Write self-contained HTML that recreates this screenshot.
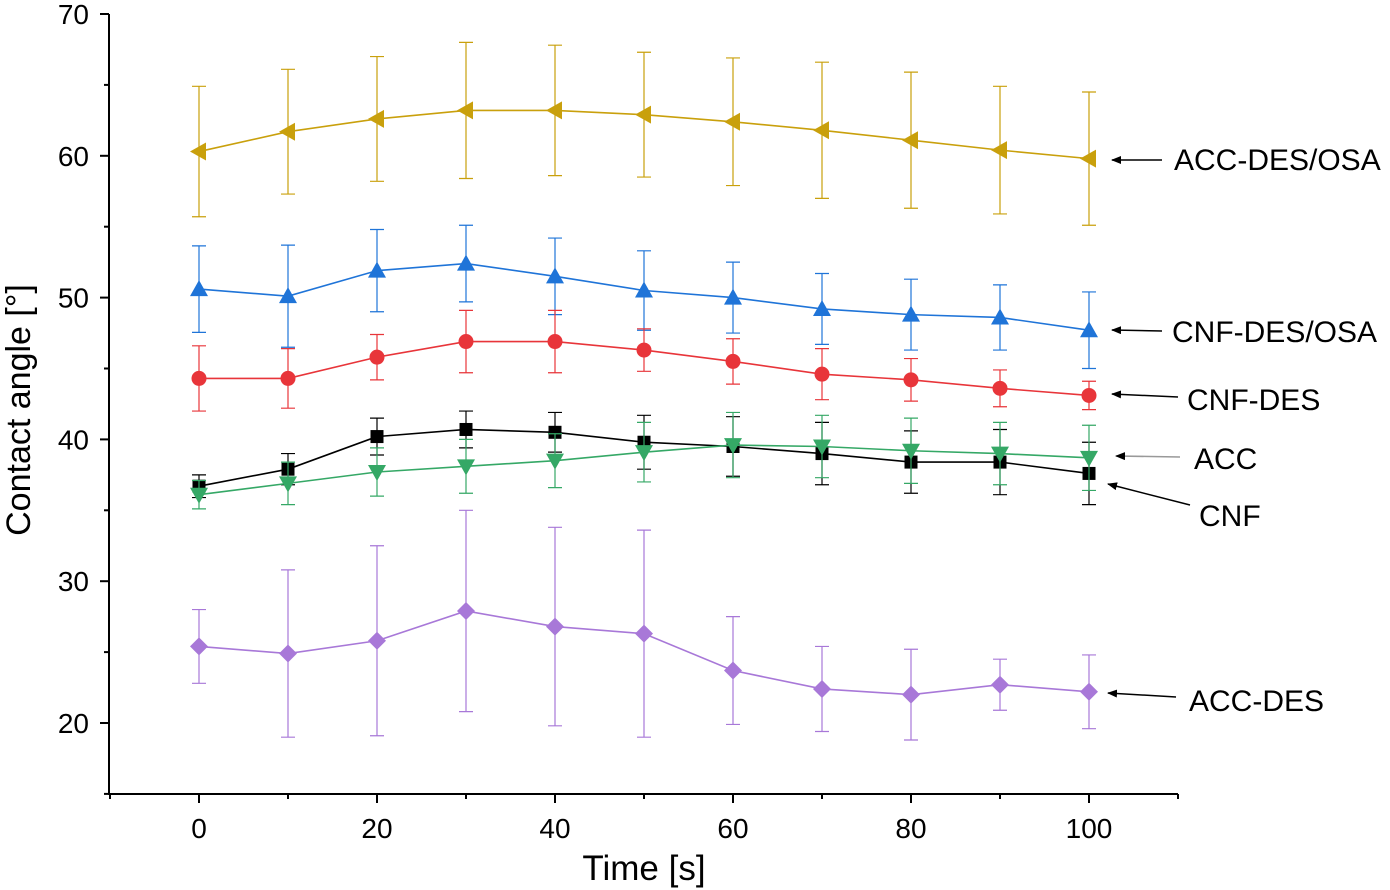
<!DOCTYPE html>
<html><head><meta charset="utf-8"><style>
html,body{margin:0;padding:0;background:#fff;}
svg{display:block;font-family:"Liberation Sans",Arial,sans-serif;}
</style></head><body>
<svg id="chart" width="1390" height="890" viewBox="0 0 1390 890" xmlns="http://www.w3.org/2000/svg">
<defs>
<marker id="ah" markerWidth="10" markerHeight="8" refX="9" refY="4" orient="auto" markerUnits="userSpaceOnUse"><path d="M0,0 L10,4 L0,8 z" fill="#000"/></marker>
<marker id="ahg" markerWidth="10" markerHeight="8" refX="9" refY="4" orient="auto" markerUnits="userSpaceOnUse"><path d="M0,0 L10,4 L0,8 z" fill="#000"/></marker>
</defs>
<g id="axes"></g>
<g id="series"></g>
<g id="annotations">
<line x1="1162" y1="160" x2="1112" y2="160" stroke="#000" stroke-width="1.5" marker-end="url(#ah)"/>
<text x="1174" y="170" font-size="30">ACC-DES/OSA</text>
<line x1="1162" y1="331" x2="1112" y2="330" stroke="#000" stroke-width="1.5" marker-end="url(#ah)"/>
<text x="1172" y="342" font-size="30">CNF-DES/OSA</text>
<line x1="1178" y1="397" x2="1112" y2="394" stroke="#000" stroke-width="1.5" marker-end="url(#ah)"/>
<text x="1187" y="410" font-size="30">CNF-DES</text>
<line x1="1180" y1="457" x2="1116" y2="456" stroke="#999" stroke-width="1.5" marker-end="url(#ahg)"/>
<text x="1194" y="469" font-size="30">ACC</text>
<line x1="1190" y1="505" x2="1108" y2="484" stroke="#000" stroke-width="1.5" marker-end="url(#ah)"/>
<text x="1199" y="526" font-size="30">CNF</text>
<line x1="1176" y1="697" x2="1108" y2="693" stroke="#000" stroke-width="1.5" marker-end="url(#ah)"/>
<text x="1189" y="711" font-size="30">ACC-DES</text>
</g>
</svg>
<script>
const times=[0,10,20,30,40,50,60,70,80,90,100];
const accDesOsa=[60.3,61.7,62.6,63.2,63.2,62.9,62.4,61.8,61.1,60.4,59.8];
const accDesOsaErr=[4.6,4.4,4.4,4.8,4.6,4.4,4.5,4.8,4.8,4.5,4.7];
const cnfDesOsa=[50.6,50.1,51.9,52.4,51.5,50.5,50.0,49.2,48.8,48.6,47.7];
const cnfDesOsaErr=[3.05,3.6,2.9,2.7,2.7,2.8,2.5,2.5,2.5,2.3,2.7];
const cnfDes=[44.3,44.3,45.8,46.9,46.9,46.3,45.5,44.6,44.2,43.6,43.1];
const cnfDesErr=[2.3,2.1,1.6,2.2,2.2,1.5,1.6,1.8,1.5,1.3,1.0];
const cnf=[36.7,37.9,40.2,40.7,40.5,39.8,39.5,39.0,38.4,38.4,37.6];
const cnfErr=[0.8,1.1,1.3,1.3,1.4,1.9,2.1,2.2,2.2,2.3,2.2];
const acc=[36.1,36.9,37.7,38.1,38.5,39.1,39.6,39.5,39.2,39.0,38.7];
const accErr=[1.0,1.5,1.7,1.9,1.9,2.1,2.3,2.2,2.3,2.2,2.3];
const accDes=[25.4,24.9,25.8,27.9,26.8,26.3,23.7,22.4,22.0,22.7,22.2];
const accDesErr=[2.6,5.9,6.7,7.1,7.0,7.3,3.8,3.0,3.2,1.8,2.6];
const xTicks=[0,20,40,60,80,100];
const xMinor=[-10,10,30,50,70,90,110];
const yTicks=[20,30,40,50,60,70];
const yMinor=[15,25,35,45,55,65];

const NS="http://www.w3.org/2000/svg";
const X0=199, XS=8.9, Y0=723, YS=14.18;
function xs(v){return X0+v*XS;}
function ys(v){return Y0-(v-20)*YS;}
function mk(tag,attrs,parent){const e=document.createElementNS(NS,tag);for(const k in attrs)e.setAttribute(k,attrs[k]);parent.appendChild(e);return e;}
const ax=document.getElementById('axes');
const L=109,R=1178,B=794,T=14;
let e;
e=mk('line',{x1:L,y1:B,x2:R,y2:B,stroke:'#000','stroke-width':2},ax);


e=mk('line',{x1:L,y1:B+1,x2:L,y2:T,stroke:'#000','stroke-width':2},ax);


xTicks.forEach(v=>{
  mk('line',{x1:xs(v),y1:B,x2:xs(v),y2:B+9,stroke:'#000','stroke-width':2},ax);
  const t=mk('text',{x:xs(v),y:B+44,'font-size':28,'text-anchor':'middle'},ax);
  t.textContent=v;
  
  
});
xMinor.forEach(v=>{mk('line',{x1:xs(v),y1:B,x2:xs(v),y2:B+5,stroke:'#000','stroke-width':2},ax);});
yTicks.forEach(v=>{
  mk('line',{x1:L,y1:ys(v),x2:L-9,y2:ys(v),stroke:'#000','stroke-width':2},ax);
  const t=mk('text',{x:89,y:ys(v)+10,'font-size':28,'text-anchor':'end'},ax);
  t.textContent=v;
  
  
});
yMinor.forEach(v=>{mk('line',{x1:L,y1:ys(v),x2:L-5,y2:ys(v),stroke:'#000','stroke-width':2},ax);});
e=mk('text',{x:644,y:880,'font-size':35,'text-anchor':'middle'},ax);
e.textContent='Time [s]';


e=mk('text',{x:0,y:0,'font-size':34,'text-anchor':'middle',transform:'translate(30,410) rotate(-90)'},ax);
e.textContent='Contact angle [°]';



const sg=document.getElementById('series');
const series=[
 {name:'acc-des-osa',vals:accDesOsa,err:accDesOsaErr,color:'#c9a00c',shape:'left'},
 {name:'cnf-des-osa',vals:cnfDesOsa,err:cnfDesOsaErr,color:'#1f74d8',shape:'up'},
 {name:'cnf-des',vals:cnfDes,err:cnfDesErr,color:'#e8353a',shape:'circle'},
 {name:'cnf',vals:cnf,err:cnfErr,color:'#000000',shape:'square'},
 {name:'acc',vals:acc,err:accErr,color:'#35a866',shape:'down'},
 {name:'acc-des',vals:accDes,err:accDesErr,color:'#a878d8',shape:'diamond'}
];
const s=9;
series.forEach(sr=>{
  const g=mk('g',{},sg);
  
  
  sr.vals.forEach((v,i)=>{
    const x=xs(times[i]),y1=ys(v+sr.err[i]),y2=ys(v-sr.err[i]);
    const eb=mk('path',{d:`M${x},${y1}V${y2}M${x-7},${y1}H${x+7}M${x-7},${y2}H${x+7}`,stroke:sr.color,'stroke-width':1.2,fill:'none'},g);
    
    
  });
  const ln=mk('polyline',{points:sr.vals.map((v,i)=>xs(times[i])+','+ys(v)).join(' '),stroke:sr.color,'stroke-width':1.6,fill:'none'},g);
  
  
  sr.vals.forEach((v,i)=>{
    const x=xs(times[i]),y=ys(v);let m;
    if(sr.shape==='circle')m=mk('circle',{cx:x,cy:y,r:7.5,fill:sr.color},g);
    else if(sr.shape==='square')m=mk('rect',{x:x-6.5,y:y-6.5,width:13,height:13,fill:sr.color},g);
    else{
      let p;
      if(sr.shape==='up')p=`${x},${y-s} ${x-s},${y+7} ${x+s},${y+7}`;
      if(sr.shape==='down')p=`${x},${y+s} ${x-s},${y-7} ${x+s},${y-7}`;
      if(sr.shape==='left')p=`${x-s},${y} ${x+7},${y-s} ${x+7},${y+s}`;
      if(sr.shape==='diamond')p=`${x},${y-s} ${x+s},${y} ${x},${y+s} ${x-s},${y}`;
      m=mk('polygon',{points:p,fill:sr.color},g);
    }
    
    
  });
});
</script>
</body></html>
